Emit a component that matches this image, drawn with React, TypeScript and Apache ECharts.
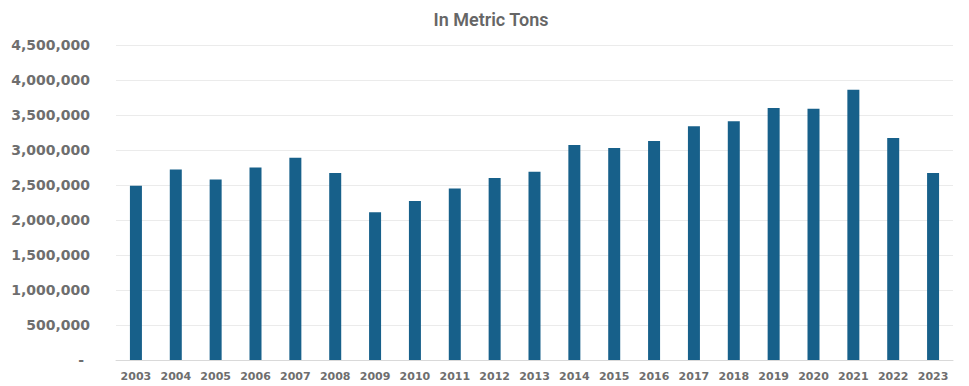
import React, { useEffect, useRef } from "react";
import * as echarts from "echarts";

// Annual volume, in metric tons
const years: string[] = [
  "2003", "2004", "2005", "2006", "2007", "2008", "2009", "2010", "2011", "2012", "2013",
  "2014", "2015", "2016", "2017", "2018", "2019", "2020", "2021", "2022", "2023",
];

const tons: number[] = [
  2490000, 2720000, 2580000, 2750000, 2890000, 2670000, 2110000, 2270000, 2450000, 2600000, 2690000,
  3070000, 3030000, 3130000, 3340000, 3410000, 3600000, 3590000, 3860000, 3170000, 2670000,
];

const yMin = 0;
const yMax = 4500000;
const yStep = 500000;

const chartTitle = "In Metric Tons";

export default function App() {
  const ref = useRef<HTMLDivElement>(null);

  useEffect(() => {
    if (!ref.current) return;
    const chart = echarts.init(ref.current, undefined, { renderer: "svg" });
    chart.setOption({
      animation: false,
      backgroundColor: "#ffffff",
      title: {
        text: chartTitle,
        left: 486,
        textAlign: "center",
        top: 5,
        textStyle: {
          fontFamily: "Roboto",
          fontWeight: 600,
          fontSize: 18,
          color: "#666666",
        },
      },
      grid: { left: 116, right: 16, top: 45, bottom: 26, containLabel: false },
      xAxis: {
        type: "category",
        data: years,
        axisLine: { lineStyle: { color: "#d9d9d9", width: 1 } },
        axisTick: { show: false },
        axisLabel: {
          fontFamily: "DejaVu Sans",
          fontWeight: "bold",
          fontSize: 11,
          color: "#6e6e6e",
          margin: 11,
          interval: 0,
        },
      },
      yAxis: {
        type: "value",
        min: yMin,
        max: yMax,
        interval: yStep,
        axisLine: { show: false },
        axisTick: { show: false },
        splitLine: { lineStyle: { color: "#ebebeb", width: 1 } },
        axisLabel: {
          fontFamily: "DejaVu Sans",
          fontWeight: "bold",
          fontSize: 14,
          color: "#6e6e6e",
          margin: 26,
          formatter: (v: number) =>
            v === 0 ? "{dash|-}" : v.toLocaleString("en-US"),
          rich: {
            dash: {
              fontFamily: "DejaVu Sans",
              fontWeight: "bold",
              fontSize: 14,
              color: "#6e6e6e",
              padding: [0, 6, 0, 0],
            },
          },
        },
      },
      series: [
        {
          type: "bar",
          data: tons,
          barWidth: 12,
          itemStyle: { color: "#17608a" },
        },
      ],
    });
    return () => chart.dispose();
  }, []);

  return (
    <div
      ref={ref}
      style={{ position: "fixed", left: 0, top: 0, width: 969, height: 386 }}
    />
  );
}
